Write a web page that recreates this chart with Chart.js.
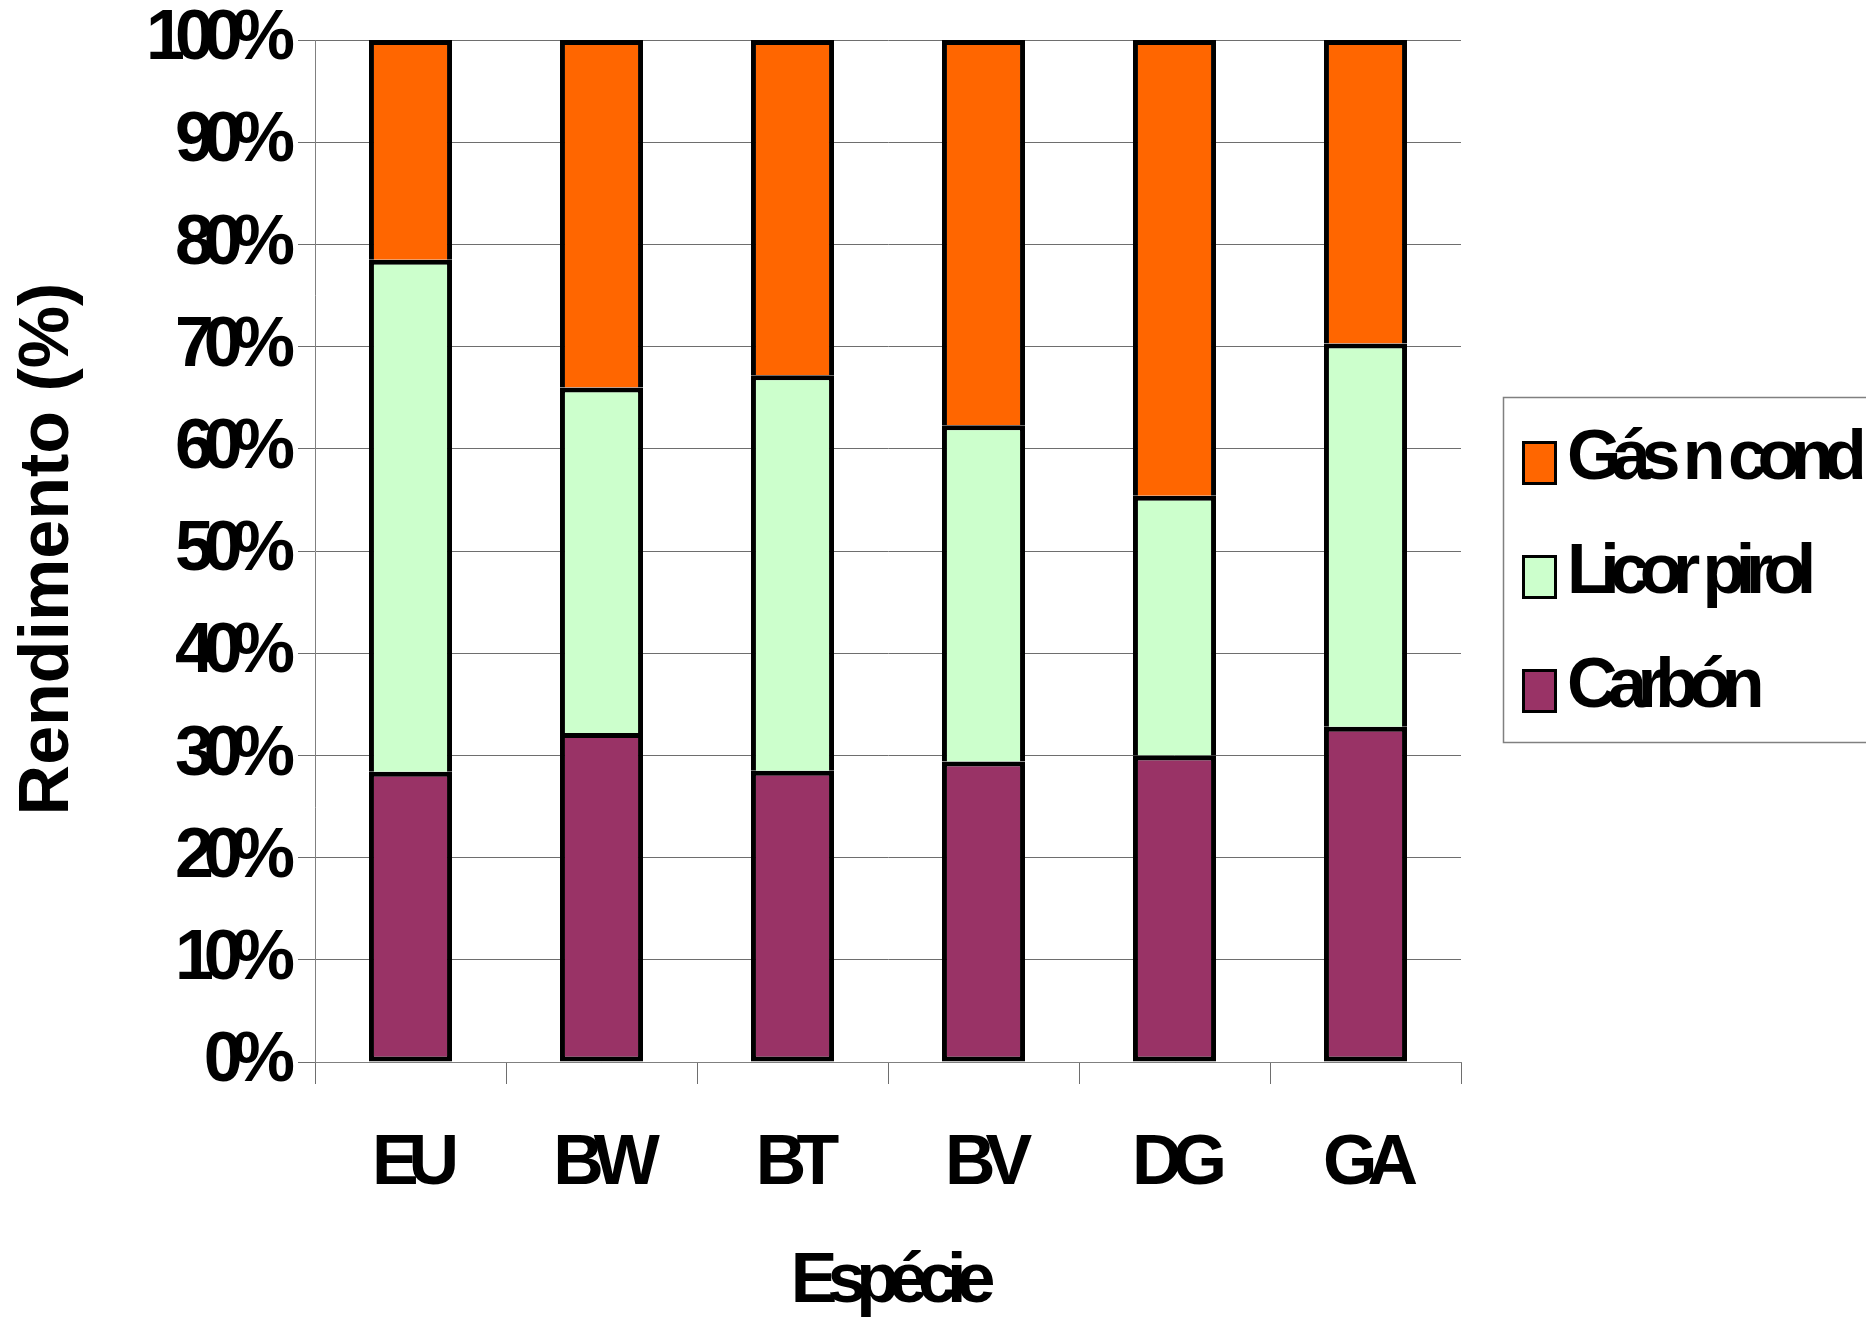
<!DOCTYPE html>
<html><head><meta charset="utf-8">
<style>html,body{margin:0;padding:0;background:#fff;}canvas{display:block;}</style>
<script src="https://cdn.jsdelivr.net/npm/chart.js@4.4.1/dist/chart.umd.min.js"></script>
</head><body>
<canvas id="c" width="1866" height="1322"></canvas>
<script>
const categories = ['EU', 'BW', 'BT', 'BV', 'DG', 'GA'];
const carbon = [28.4, 32.2, 28.5, 29.4, 30.0, 32.8];
const licor  = [50.1, 33.8, 38.7, 32.9, 25.4, 37.5];
const gas    = [21.5, 34.0, 32.8, 37.7, 44.6, 29.7];
const yTickLabels = ['0%', '10%', '20%', '30%', '40%', '50%', '60%', '70%', '80%', '90%', '100%'];
const seriesNames = ['Carbón', 'Licor pirol', 'Gás n cond'];
const seriesColors = ['#993366', '#CCFFCC', '#FF6600'];
const xTitle = 'Espécie';
const yTitle = 'Rendimento (%)';

const FONT = '"Liberation Sans", Arial, sans-serif';
const SPACING = '-10px';
const bigFont = {family: FONT, size: 70, weight: 'bold', lineHeight: 1};

const extras = {
  id: 'extras',
  beforeUpdate(chart) { chart.ctx.letterSpacing = SPACING; },
  beforeDraw(chart) { chart.ctx.letterSpacing = SPACING; },
  afterDraw(chart) {
    const ctx = chart.ctx;
    // y title (not condensed)
    ctx.save();
    ctx.letterSpacing = '0px';
    ctx.font = 'bold 70px ' + FONT;
    ctx.fillStyle = '#000';
    ctx.translate(68, 549);
    ctx.rotate(-Math.PI / 2);
    ctx.textAlign = 'center';
    ctx.textBaseline = 'alphabetic';
    ctx.fillText(yTitle, 0, 0);
    ctx.restore();
    // legend
    ctx.save();
    ctx.letterSpacing = '-9.5px';
    ctx.wordSpacing = '2px';
    ctx.strokeStyle = '#808080';
    ctx.lineWidth = 1.5;
    ctx.strokeRect(1503.5, 397.5, 420, 345);
    ctx.font = 'bold 70px ' + FONT;
    ctx.textAlign = 'left';
    ctx.textBaseline = 'alphabetic';
    const ds = chart.data.datasets.slice().reverse();
    ds.forEach((d, i) => {
      const yc = 463 + i * 114;
      ctx.fillStyle = '#000';
      ctx.fillRect(1522, yc - 22, 35, 44);
      ctx.fillStyle = d.backgroundColor;
      ctx.fillRect(1525, yc - 19, 29, 38);
      ctx.fillStyle = '#000';
      ctx.fillText(d.label, 1567, yc + 16);
    });
    ctx.restore();
  }
};

const datasets = [carbon, licor, gas].map((vals, i) => ({
  label: seriesNames[i],
  data: vals,
  backgroundColor: seriesColors[i],
  borderColor: '#000',
  borderWidth: 5,
  borderSkipped: i === 0 ? false : 'start',
  categoryPercentage: 1,
  barPercentage: 0.435
}));

new Chart(document.getElementById('c'), {
  type: 'bar',
  data: {labels: categories, datasets},
  options: {
    responsive: false,
    animation: false,
    devicePixelRatio: 1,
    layout: {padding: {left: 0, right: 405, top: 40, bottom: 0}},
    plugins: {legend: {display: false}, tooltip: {enabled: false}},
    scales: {
      x: {
        stacked: true,
        ticks: {padding: 46, color: '#000', font: bigFont},
        grid: {drawOnChartArea: false, drawTicks: true, tickLength: 22, color: '#6e6e6e', offset: true},
        border: {display: true, color: '#808080', width: 1},
        title: {display: true, text: xTitle, color: '#000', font: bigFont, padding: {top: 0, bottom: 4}},
        afterFit(s) { s.height = 260; }
      },
      y: {
        stacked: true,
        min: 0, max: 100,
        ticks: {stepSize: 10, padding: 13, color: '#000', font: bigFont,
                callback: (v, i) => yTickLabels[i]},
        grid: {color: '#6e6e6e', lineWidth: 1, tickLength: 17, drawTicks: true},
        border: {display: true, color: '#808080', width: 1},
        afterFit(s) { s.width = 315; s.paddingTop = 0; s.paddingBottom = 0; }
      }
    }
  },
  plugins: [extras]
});
</script>
</body></html>
